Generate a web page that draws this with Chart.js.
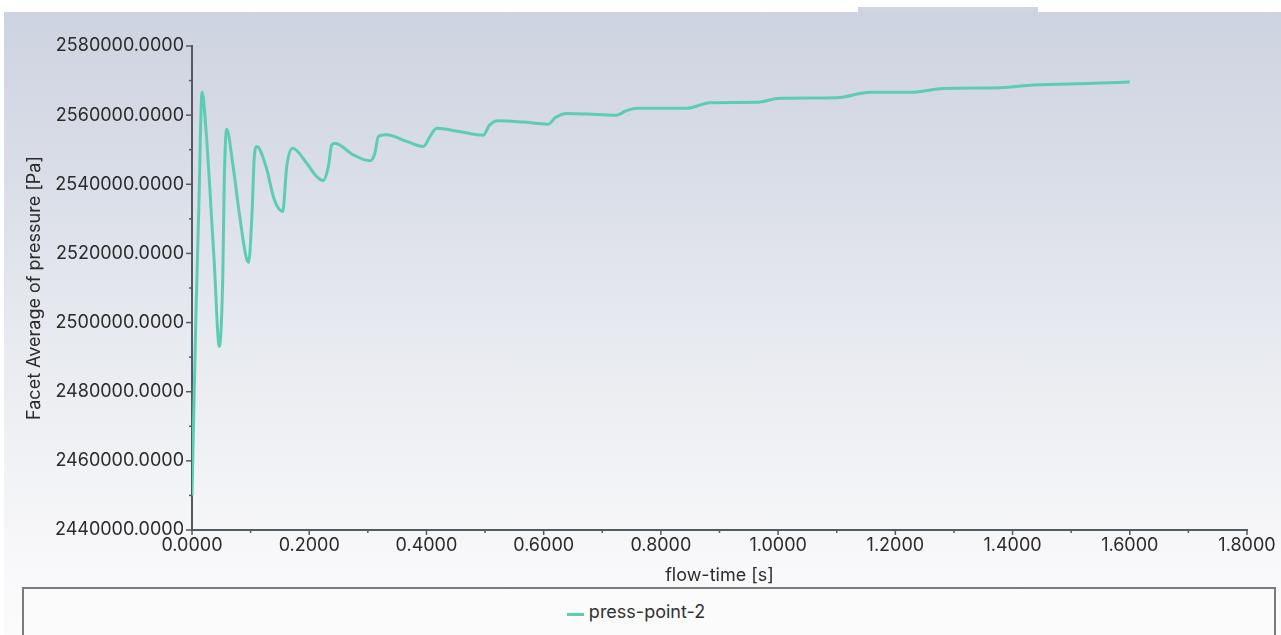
<!DOCTYPE html>
<html>
<head>
<meta charset="utf-8">
<script src="https://cdn.jsdelivr.net/npm/chart.js@4/dist/chart.umd.min.js"></script>
<style>
  html, body { margin: 0; padding: 0; background: #ffffff; width: 1281px; height: 635px; overflow: hidden; font-family: Inter, "Noto Sans", sans-serif; }
  #panel { position: absolute; left: 4px; top: 12px; width: 1277px; height: 623px;
    background: linear-gradient(to bottom, #ced3e1 0%, #d9dde7 25%, #e6e9ef 50%, #f2f3f6 75%, #f9f9fb 90%, #fbfbfc 100%); }
  #tab { position: absolute; left: 858px; top: 7px; width: 180px; height: 6px; background: #d1d5e2; }
  #wrap { position: absolute; left: 0; top: 0; width: 1281px; height: 590px; }
  #legendBox { position: absolute; left: 22px; top: 587px; width: 1254px; height: 60px;
    border: 2px solid #7b7b7b; background: #fbfbfc; box-sizing: border-box; }
  #legend { position: absolute; left: 0; right: 0; top: 12px; text-align: center; font-size: 18px; color: #303030; padding-right: 26px; }
  #legend .sw { display: inline-block; width: 17px; height: 3px; vertical-align: middle; margin-right: 5px; position: relative; top: 1px; }
</style>
</head>
<body>
<div id="panel"></div>
<div id="tab"></div>
<div id="wrap"><canvas id="c" width="1281" height="590"></canvas></div>
<div id="legendBox"><div id="legend"></div></div>
<script>
// ---- data ----
const seriesName = "press-point-2";
const xTitle = "flow-time [s]";
const yTitle = "Facet Average of pressure [Pa]";

const flowTime = [0, 0.0068, 0.0114, 0.0172, 0.0239, 0.0295, 0.038, 0.0466, 0.0524, 0.0551, 0.0592, 0.0694, 0.0807, 0.0922, 0.0967, 0.1024, 0.1063, 0.1104, 0.1263, 0.1405, 0.1548, 0.1616, 0.1718, 0.1957, 0.2128, 0.224, 0.2326, 0.2384, 0.244, 0.2753, 0.3038, 0.312, 0.318, 0.332, 0.366, 0.3947, 0.406, 0.4176, 0.455, 0.497, 0.507, 0.5227, 0.565, 0.608, 0.620, 0.6394, 0.690, 0.7247, 0.740, 0.7589, 0.844, 0.884, 0.964, 1.003, 1.100, 1.157, 1.231, 1.282, 1.379, 1.436, 1.538, 1.600];
const pressure = [2450000, 2502800, 2531700, 2566700, 2555700, 2541300, 2517200, 2493100, 2512400, 2541300, 2555900, 2546100, 2531600, 2519100, 2517400, 2531600, 2548000, 2550900, 2545100, 2535500, 2532100, 2545100, 2550400, 2546100, 2542200, 2541100, 2545100, 2551400, 2551900, 2548500, 2546800, 2549000, 2553800, 2554300, 2552400, 2550900, 2553800, 2556200, 2555300, 2554200, 2557000, 2558400, 2558000, 2557400, 2559300, 2560500, 2560200, 2560000, 2561200, 2562000, 2562000, 2563600, 2563700, 2564900, 2565050, 2566600, 2566650, 2567700, 2567950, 2568700, 2569200, 2569600];

const xMin = 0, xMax = 1.8, xMajor = 0.2, xMinor = 0.1;
const yMin = 2440000, yMax = 2580000, yMajor = 20000, yMinor = 10000;

const lineColor = '#5ccdb3';
const axisColor = '#555a60';
const textColor = '#2b2b2b';
const font = { family: 'Inter, "Noto Sans", sans-serif', size: 18 };

document.getElementById('legend').innerHTML =
  '<span class="sw" style="background:' + lineColor + '"></span>' + seriesName;

const points = flowTime.map((t, i) => ({ x: t, y: pressure[i] }));

const tickPlugin = {
  id: 'tickMarks',
  afterDraw(chart) {
    const ctx = chart.ctx;
    const xs = chart.scales.x, ys = chart.scales.y;
    ctx.save();
    ctx.strokeStyle = axisColor;
    ctx.lineWidth = 1.5;
    const n = Math.round((xMax - xMin) / xMinor);
    for (let i = 0; i <= n; i++) {
      const v = xMin + i * xMinor;
      const px = xs.getPixelForValue(v);
      const len = (i % 2 === 0) ? 5 : 3;
      ctx.beginPath(); ctx.moveTo(px, ys.bottom); ctx.lineTo(px, ys.bottom + len); ctx.stroke();
    }
    const m = Math.round((yMax - yMin) / yMinor);
    for (let i = 0; i <= m; i++) {
      const v = yMin + i * yMinor;
      const py = ys.getPixelForValue(v);
      const len = (i % 2 === 0) ? 6 : 3;
      ctx.beginPath(); ctx.moveTo(xs.left, py); ctx.lineTo(xs.left - len, py); ctx.stroke();
    }
    ctx.restore();
  }
};

new Chart(document.getElementById('c'), {
  type: 'line',
  data: {
    datasets: [{
      label: seriesName,
      data: points,
      borderColor: lineColor,
      backgroundColor: lineColor,
      borderWidth: 3,
      pointRadius: 0,
      cubicInterpolationMode: 'monotone',
      fill: false
    }]
  },
  options: {
    responsive: false,
    animation: false,
    events: [],
    layout: { padding: { left: 20, top: 46, right: 34, bottom: 0 } },
    plugins: { legend: { display: false }, tooltip: { enabled: false } },
    scales: {
      x: {
        type: 'linear', min: xMin, max: xMax,
        grid: { display: false, drawTicks: false },
        border: { display: true, color: axisColor, width: 2 },
        ticks: { stepSize: xMajor, color: textColor, font: font, padding: 5, maxRotation: 0,
          callback: v => Number(v).toFixed(4) },
        title: { display: true, text: xTitle, color: textColor, font: font, padding: { top: 2, bottom: 4 } },
        afterFit: s => { s.height = 60; }
      },
      y: {
        type: 'linear', min: yMin, max: yMax,
        grid: { display: false, drawTicks: false },
        border: { display: true, color: axisColor, width: 2 },
        ticks: { stepSize: yMajor, color: textColor, font: font, padding: 8,
          callback: v => Number(v).toFixed(4) },
        title: { display: true, text: yTitle, color: textColor, font: font, padding: { top: 4, bottom: 4 } },
        afterFit: s => { s.width = 172; }
      }
    }
  },
  plugins: [tickPlugin]
});
</script>
</body>
</html>
